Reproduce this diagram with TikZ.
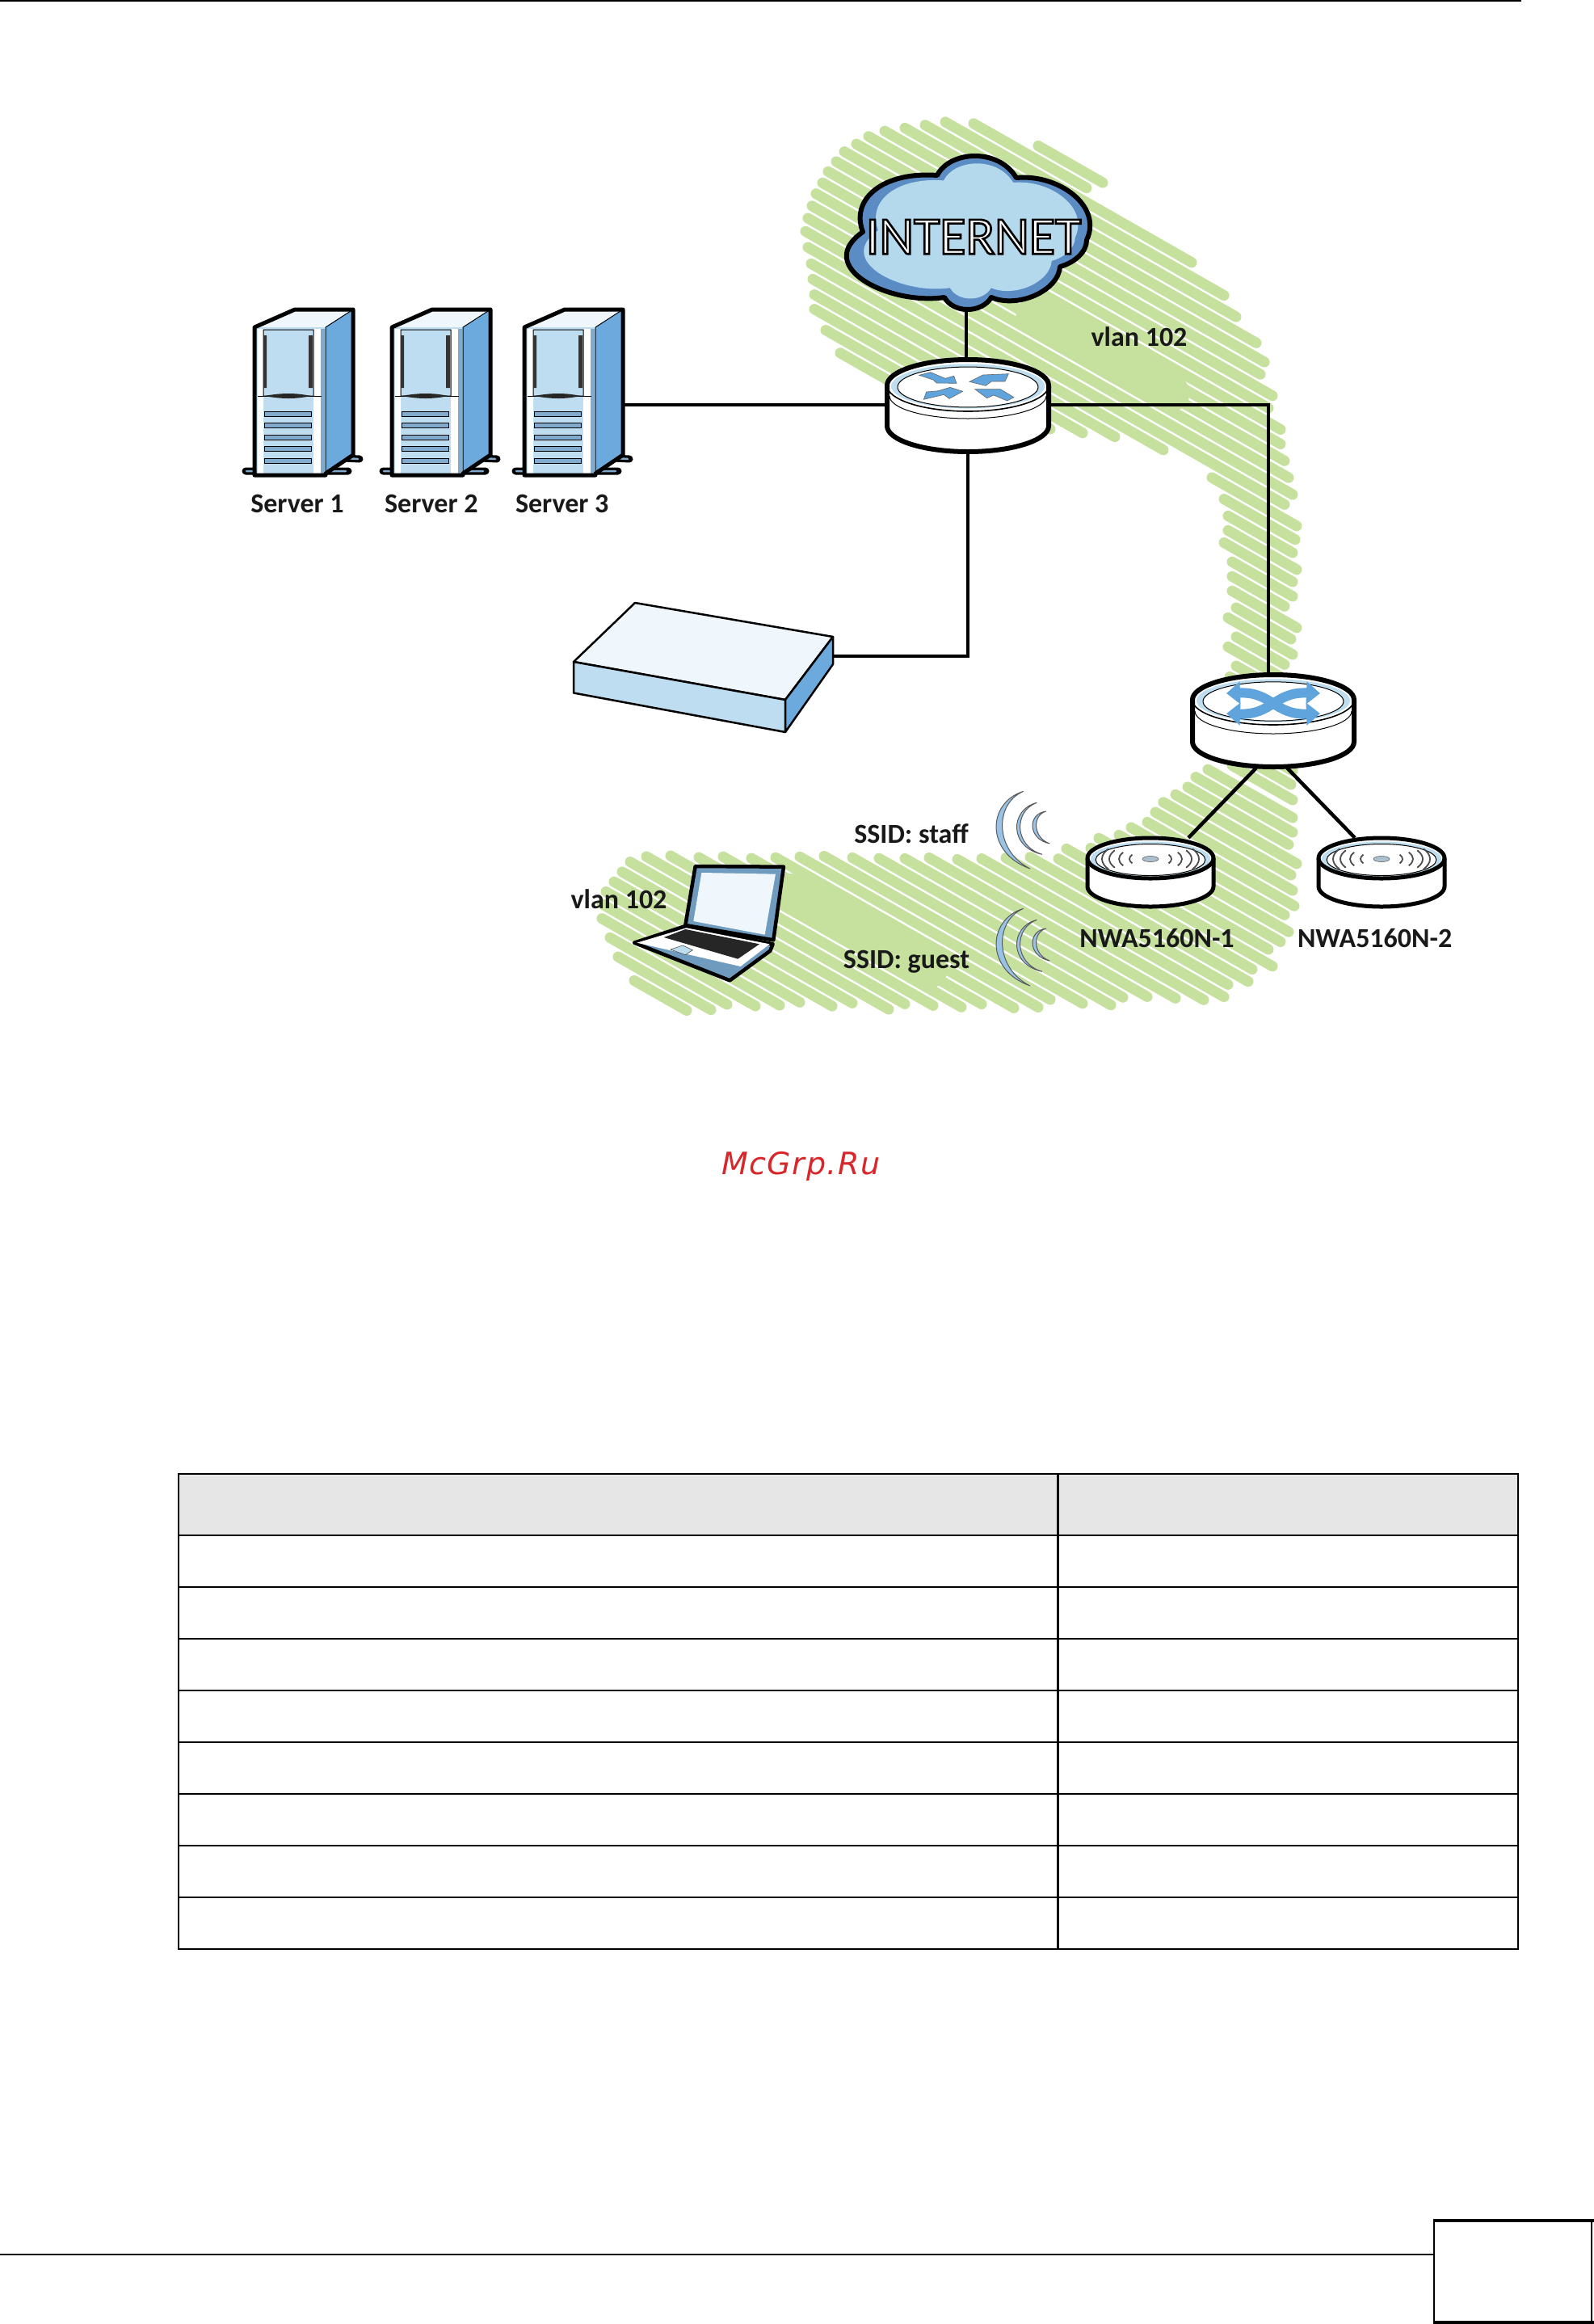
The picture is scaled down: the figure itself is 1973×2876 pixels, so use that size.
\documentclass[tikz,border=0pt]{standalone}
\usepackage{fontspec}
\usetikzlibrary{arrows.meta,calc,positioning}
\setmainfont{Carlito}
\newfontfamily\inetfont[FakeBold=4]{Carlito}
\newfontfamily\wmfont[LetterSpace=4]{DejaVu Sans}
\definecolor{hatchgreen}{RGB}{198,224,158}
\definecolor{sideblue}{RGB}{108,170,221}
\definecolor{paleblue}{RGB}{190,221,240}
\definecolor{topwhite}{RGB}{240,247,252}
\definecolor{ringblue}{RGB}{190,222,240}
\definecolor{cloudring}{RGB}{91,141,196}
\definecolor{cloudfill}{RGB}{181,217,236}
\definecolor{arrowblue}{RGB}{95,164,220}
\definecolor{slatblue}{RGB}{130,170,205}
\definecolor{wmred}{RGB}{217,38,42}
\definecolor{headgray}{RGB}{230,230,230}
\definecolor{lapblue}{RGB}{110,155,190}

\newcommand{\cloudpath}{(1169,368) .. controls (1100,378) and (1006,330) .. (1068,287)
    .. controls (1052,245) and (1095,212) .. (1160,217)
    .. controls (1175,187) and (1235,182) .. (1258,220)
    .. controls (1310,215) and (1365,255) .. (1345,297)
    .. controls (1345,312) and (1330,325) .. (1312,330)
    .. controls (1310,360) and (1260,382) .. (1227,368)
    .. controls (1215,388) and (1180,388) .. (1169,368) -- cycle}

\newcommand{\puckdev}[7]{%
    \draw[line width=#6pt,fill=white,line join=round] ({#1-#4},#2) -- ({#1-#4},#3)
        arc[start angle=180,end angle=360,x radius=#4pt,y radius=#5pt]
        -- ({#1+#4},#2) arc[start angle=0,end angle=180,x radius=#4pt,y radius=#5pt] -- cycle;
    \fill[ringblue] (#1,{#2+1}) ellipse [x radius={.95*#4pt},y radius={.86*#5pt}];
    \draw[line width=1pt,fill=white] (#1,{#2+2}) ellipse [x radius={.87*#4pt},y radius={.78*#5pt}];
    \draw[line width=#7pt] ({#1-#4},#2) arc[start angle=180,end angle=360,x radius=#4pt,y radius=#5pt];
}
\newcommand{\apdev}[1]{%
    \puckdev{#1}{1062}{1097}{78}{25}{5}{5}
    \fill[ringblue!70!gray,draw=black!70,line width=.5pt] (#1,1063) ellipse [x radius=10pt,y radius=3.5pt];
    \foreach \rr in {26,39,51,60}{%
      \draw[line width=1.8pt,black!70] ($(#1,1063)+(150:\rr pt and {.42*\rr pt})$)
          arc[start angle=150,end angle=210,x radius=\rr pt,y radius={.42*\rr pt}];
      \draw[line width=1.8pt,black!70] ($(#1,1063)+(-30:\rr pt and {.42*\rr pt})$)
          arc[start angle=-30,end angle=30,x radius=\rr pt,y radius={.42*\rr pt}];
    }
}
\newcommand{\wavedev}[1]{%
    \begin{scope}[shift={(1220,#1)},scale=.3333]
      \draw[wave] (140,28) .. controls (5,70) and (-2,256) .. (165,315)
          .. controls (34,250) and (30,75) .. (140,28) -- cycle;
      \draw[wave] (190,70) .. controls (90,95) and (85,235) .. (210,262)
          .. controls (103,230) and (105,100) .. (190,70) -- cycle;
      \draw[wave] (225,102) .. controls (155,110) and (155,205) .. (238,222)
          .. controls (174,200) and (173,115) .. (225,102) -- cycle;
    \end{scope}
}

\begin{document}
\begin{tikzpicture}[x=1pt,y=-1pt]
    \tikzstyle{hatch}=[hatchgreen,line width=13pt,line cap=round]
    \tikzstyle{hatchwide}=[hatchgreen,line width=45pt,line cap=round]
    \tikzstyle{link}=[draw,line width=4.5pt]
    \tikzstyle{devbox}=[inner sep=0pt]
    \tikzstyle{lbl}=[inner sep=0pt,text=black!90,font=\fontsize{34}{37}\selectfont\bfseries]
    \tikzstyle{wave}=[fill=sideblue!70,draw=black!65,line width=1pt]
    \tikzstyle{face}=[draw,line width=2.5pt,line join=round]
    \tikzstyle{tabline}=[line width=2.2pt]
    \tikzstyle{tabsep}=[line width=2.5pt]

    \useasboundingbox (0,0) rectangle (1973,2876);
    \fill[white] (0,0) rectangle (1973,2876);

    \foreach \ci/\xa/\xb in {-552/1285/1365,-534/1205/1345,-516/1170/1475,-498/1145/1515,
      -480/1120/1530,-462/1095/1555,-444/1075/1565,-426/1060/1560,-408/1045/1575,
      -390/1035/1570,-372/1025/1585,-354/1018/1585,-336/1010/1590,-318/1005/1595,
      -300/1000/1600,-282/997/1590,-264/1000/1440,-264/1500/1605,-246/1004/1380,
      -246/1515/1603,-228/1006/1340,-228/1520/1600,-210/1008/1300,-210/1520/1605,
      -192/1008/1230,-192/1515/1600,-174/1022/1180,-174/1525/1600,-156/1040/1120,
      -156/1525/1590,-138/1525/1605,-120/1530/1598,-102/1520/1600,-84/1530/1590,
      -66/1520/1585,-48/1530/1595,-30/1522/1600,-12/1530/1592,6/1520/1600,
      24/1530/1595,42/1520/1600,60/1515/1598,78/1525/1600}
      \draw[hatch] (\xa,{\ci+.57*\xa}) -- (\xb,{\ci+.57*\xb});
    \foreach \ci/\xa/\xb in {100/1495/1600,118/1480/1600,136/1470/1595,154/1455/1605,
      172/1440/1598,190/1430/1600,208/1420/1602,226/1400/1590,244/1385/1595,
      262/1360/1585,280/1350/1570,298/1320/1575,316/1310/1550,334/1275/1545,
      352/1245/1520,370/1215/1515,388/1185/1490,406/1150/1455,424/1120/1420,
      442/1088/1390,460/1055/1375,478/1020/1340,496/990/1300,514/960/1285,
      532/930/1255,550/895/1215,568/865/1190,586/830/1155,604/800/1120,
      622/780/1100,640/770/1055,658/760/1030,676/750/990,694/745/965,
      712/745/935,730/755/900,748/765/880,766/785/850}
      \draw[hatch] (\xa,{\ci+.57*\xa}) -- (\xb,{\ci+.57*\xb});
    \draw[hatchwide] (1280,{-340+.57*1280}) -- (1450,{-340+.57*1450});
    \draw[hatchwide] (980,{545+.57*980}) -- (1150,{545+.57*1150});

    \node[devbox,minimum width=303pt,minimum height=190pt] (CLD) at (1196,288) {};
    \node[devbox,minimum width=201pt,minimum height=118pt] (RTR) at (1198,501) {};
    \node[devbox,minimum width=123pt,minimum height=205pt] (SRV1) at (376.5,485.5) {};
    \node[devbox,minimum width=123pt,minimum height=205pt] (SRV2) at (546.5,485.5) {};
    \node[devbox,minimum width=123pt,minimum height=205pt] (SRV3) at (710.5,485.5) {};
    \node[devbox,minimum width=321pt,minimum height=160pt] (BOX) at (870.5,812) {};
    \node[devbox,minimum width=201pt,minimum height=115pt] (SWT) at (1576,892.5) {};
    \node[devbox,minimum width=156pt,minimum height=88pt] (AP1) at (1424,1081) {};
    \node[devbox,minimum width=156pt,minimum height=88pt] (AP2) at (1710,1081) {};

    \path[link] (CLD.south) -- (CLD.south |- RTR.north);
    \path[link] (SRV3.east |- RTR.west) -- (RTR.west);
    \path[link] (RTR.east) -| ([xshift=-6pt]SWT.north);
    \path[link] (RTR.south) |- (BOX.east);
    \path[link] ([xshift=-21pt]SWT.south) -- ([xshift=47pt]AP1.north);
    \path[link] ([xshift=17pt]SWT.south) -- ([xshift=-33pt]AP2.north);

    % cloud
    \fill[cloudring,draw=black,line width=6pt,line join=round] \cloudpath;
    \begin{scope}[shift={(1197,285)},scale=.88,shift={(-1193,-287)}]
      \fill[cloudfill] \cloudpath;
    \end{scope}
    \node[inner sep=0pt] (INET) at (1205,293) {\fontsize{66}{70}\selectfont\inetfont\special{pdf:code 1 1 1 rg 0 0 0 RG}INTERNET};

    % servers
    \foreach \sx in {315,485,649}{
      \begin{scope}[shift={(\sx,405)}]
        \draw[black,line width=9pt,line cap=round] (-11,178) -- (2,178) (88,178) -- (116,178) (111,162) -- (130,163);
        \draw[slatblue,line width=2.5pt,line cap=round] (-10,178) -- (0,178) (95,178) -- (113,178) (113,162) -- (128,163);
        \fill[topwhite] (0,0) -- (50,-22) -- (122,-22) -- (88,0) -- cycle;
        \fill[sideblue] (88,0) -- (122,-22) -- (122,158) -- (88,180) -- cycle;
        \fill[paleblue] (0,0) rectangle (88,183);
        \fill[white] (4,2) rectangle (11,183) (73,2) rectangle (82,183);
        \fill[slatblue] (82,2) rectangle (87,183);
        \draw[line width=1pt] (88,0) -- (88,180) (88,0) -- (122,-22) (11,3) rectangle (73,85);
        \draw[line width=1pt] (4,85) -- (83,85);
        \fill[black!80] (11,10) rectangle (15,75) (67,10) rectangle (72,75);
        \fill[black!85] (12,85) .. controls (35,81) and (50,81) .. (70,85) .. controls (50,89) and (35,89) .. (12,85) -- cycle;
        \foreach \sy in {104,118,133,147,162}
          \draw[fill=slatblue,line width=1pt] (12,\sy) rectangle (70,\sy+6.5);
        \draw[line width=5pt,line join=round] (0,183) -- (0,0) -- (50,-22) -- (122,-22) -- (122,158) -- (88,181) -- (88,183) -- cycle;
      \end{scope}
    }

    % router
    \puckdev{1198}{477}{527}{100}{32}{6}{1.6}
    \draw[line width=1pt] (1101,490) arc[start angle=180,end angle=360,x radius=97pt,y radius=28pt];
    \begin{scope}[shift={(1090,440)},scale=.3333]
      \draw[fill=arrowblue,draw=black!60,line width=.6pt] (143,73) -- (185,62) -- (240,85) -- (272,76) -- (282,103) -- (208,102) -- (195,90) -- cycle;
      \draw[fill=arrowblue,draw=black!60,line width=.6pt] (330,97) -- (380,72) -- (475,68) -- (462,96) -- (412,96) -- (390,112) -- cycle;
      \draw[fill=arrowblue,draw=black!60,line width=.6pt] (160,163) -- (170,135) -- (215,131) -- (258,118) -- (305,133) -- (255,160) -- (235,145) -- cycle;
      \draw[fill=arrowblue,draw=black!60,line width=.6pt] (350,125) -- (445,125) -- (495,155) -- (470,168) -- (420,147) -- (395,158) -- cycle;
    \end{scope}

    % switch
    \puckdev{1576}{866}{918}{100}{31}{6}{1.6}
    \draw[line width=1pt] (1479,880) arc[start angle=180,end angle=360,x radius=97pt,y radius=28pt];
    \draw[arrowblue,line width=12pt,{Triangle[length=17pt,width=27pt]}-{Triangle[length=17pt,width=27pt]}]
        (1518,858) .. controls (1575,856) and (1577,885) .. (1634,883);
    \draw[arrowblue,line width=12pt,{Triangle[length=17pt,width=27pt]}-{Triangle[length=17pt,width=27pt]}]
        (1518,883) .. controls (1575,885) and (1577,856) .. (1634,858);

    % access points
    \apdev{1424}
    \apdev{1710}

    % appliance
    \path[face,fill=topwhite] (786,746) -- (1031,788) -- (972,866) -- (710,819) -- cycle;
    \path[face,fill=paleblue] (710,819) -- (972,866) -- (972,906) -- (710,857.5) -- cycle;
    \path[face,fill=sideblue] (1031,788) -- (1031,822) -- (972,906) -- (972,866) -- cycle;

    % laptop
    \begin{scope}[shift={(770,1060)},scale=.3333]
      \draw[fill=lapblue,line width=4.5pt,line join=round] (272,36) -- (600,38) -- (562,310) -- (235,255) -- cycle;
      \fill[topwhite] (295,60) -- (570,65) -- (530,290) -- (265,240) -- cycle;
      \draw[fill=lapblue,line width=4.5pt,line join=round] (45,320) -- (235,258) -- (560,325) -- (550,350) -- (400,460) -- cycle;
      \fill[white] (55,320) -- (240,265) -- (548,325) -- (440,408) -- cycle;
      \fill[black!85] (155,300) -- (235,270) -- (510,325) -- (430,380) -- cycle;
      \fill[ringblue,draw=black!70,line width=.6pt] (180,345) -- (225,330) -- (262,347) -- (235,365) -- cycle;
    \end{scope}

    % signal
    \wavedev{970}
    \wavedev{1115}

    % labels
    \node[lbl] (LAN1) at (1410,417) {vlan 102};
    \node[lbl] (LAN2) at (766,1113) {vlan 102};
    \node[lbl] (SVR1) at (368,623) {Server 1};
    \node[lbl] (SVR2) [right=50pt of SVR1] {Server 2};
    \node[lbl] (SVR3) [right=46pt of SVR2] {Server 3};
    \node[lbl] (STAFF) at (1128,1032) {SSID: staff};
    \node[lbl] (GUEST) at (1122,1190) {SSID: guest};
    \node[lbl] (NWA1) at (1432,1161) {NWA5160N-1};
    \node[lbl] (NWA2) [right=78pt of NWA1] {NWA5160N-2};

    \node[inner sep=0pt,anchor=base west,text=wmred] (MARK) at (893,1453)
        {\fontsize{38}{42}\selectfont\wmfont\itshape McGrp.Ru};

    % table
    \fill[headgray] (221,1824) rectangle (1879,1900);
    \foreach \ty in {1824,1900,1964,2028,2092,2156,2220,2284,2348,2412}
      \draw[tabline] (220,\ty) -- (1880,\ty);
    \draw[tabsep] (221,1824) -- (221,2412) (1309.5,1824) -- (1309.5,2412) (1879,1824) -- (1879,2412);

    % page furniture
    \draw[line width=2.5pt] (0,1) -- (1883,1);
    \draw[line width=2.5pt] (0,2790) -- (1774,2790);
    \draw[line width=4pt] (1774,2748) -- (1973,2748) (1774,2874) -- (1973,2874);
    \draw[line width=2pt] (1775,2746) -- (1775,2876) (1970,2746) -- (1970,2876);
\end{tikzpicture}
\end{document}
